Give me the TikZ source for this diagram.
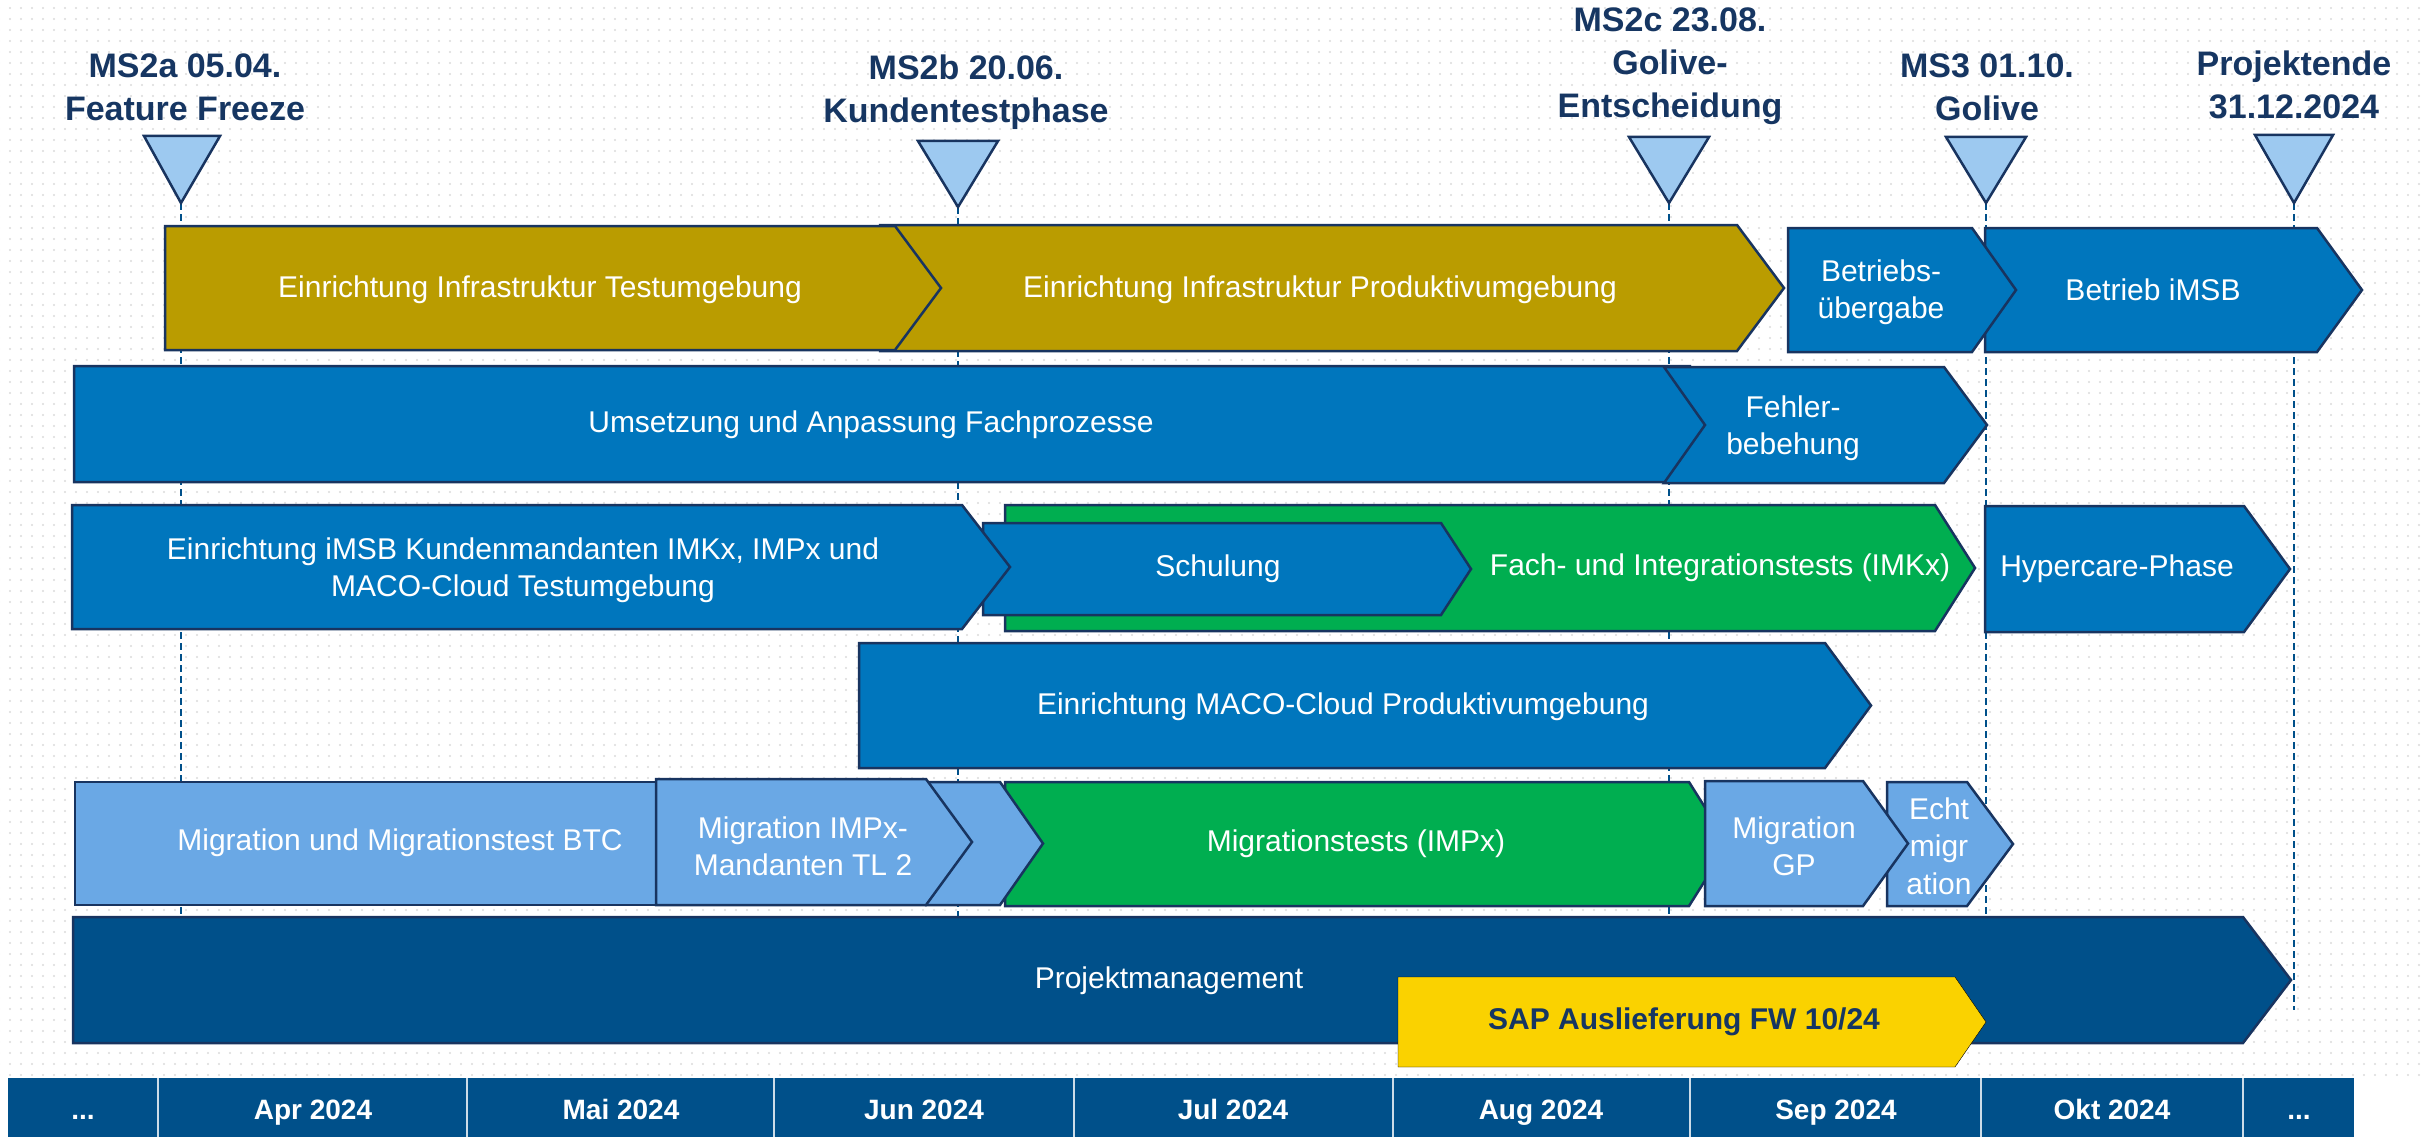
\documentclass[tikz,border=0pt]{standalone}
\usepackage{fontspec}
\setmainfont{Liberation Sans}
\usetikzlibrary{patterns.meta}
\definecolor{cnavy}{RGB}{22,54,98}
\definecolor{cline}{RGB}{24,52,96}
\definecolor{cgold}{RGB}{186,156,0}
\definecolor{cblue}{RGB}{0,118,189}
\definecolor{cdblue}{RGB}{0,80,138}
\definecolor{clblue}{RGB}{106,168,229}
\definecolor{cgreen}{RGB}{0,174,80}
\definecolor{cyellow}{RGB}{250,210,0}
\definecolor{ctri}{RGB}{157,201,240}
\newcommand{\mypent}[6]{\draw[#1] (#2,#5) -- (#3,#5) -- (#4,{(#5+#6)/2}) -- (#3,#6) -- (#2,#6) -- cycle;}
\newcommand{\mychev}[7]{\draw[#1] (#2,#6) -- (#4,#6) -- (#5,{(#6+#7)/2}) -- (#4,#7) -- (#2,#7) -- (#3,{(#6+#7)/2}) -- cycle;}
\begin{document}
\begin{tikzpicture}[x=1pt,y=-1pt,
  bar/.style={draw=cline,line width=2.5pt,line join=miter},
  gbar/.style={bar,fill=cgold},
  bbar/.style={bar,fill=cblue},
  lbar/.style={bar,fill=clblue},
  grbar/.style={bar,fill=cgreen},
  dbar/.style={bar,fill=cdblue},
  tri/.style={draw=cline,line width=2.5pt,fill=ctri,line join=miter},
  msline/.style={draw=cdblue,line width=1.3pt,dash pattern=on 7pt off 4pt},
  lbl/.style={text=white,font=\fontsize{30}{37}\selectfont,align=center,inner sep=0pt},
  ms/.style={text=cnavy,font=\bfseries\fontsize{34}{43}\selectfont,align=center,inner sep=0pt},
  mon/.style={text=white,font=\bfseries\fontsize{28}{34}\selectfont,inner sep=0pt,anchor=base}]
\useasboundingbox (0,0) rectangle (2427,1137);
\fill[white] (0,0) rectangle (2427,1137);
\fill[pattern={Dots[radius=1.2pt,distance=10.5pt]},pattern color=black!14] (0,0) rectangle (2427,1078);
% milestone tips and dashed lines
\coordinate (t1) at (181,203); \coordinate (e1) at (181,1010);
\coordinate (t2) at (958,207); \coordinate (e2) at (958,1010);
\coordinate (t3) at (1669,203); \coordinate (e3) at (1669,1010);
\coordinate (t4) at (1986,203); \coordinate (e4) at (1986,1010);
\coordinate (t5) at (2294,203); \coordinate (e5) at (2294,1010);
\foreach \i in {1,...,5} {\draw[msline] (t\i) -- (e\i);}
\draw[tri] (144,136) -- (220,136) -- (t1) -- cycle;
\draw[tri] (918,141) -- (998,141) -- (t2) -- cycle;
\draw[tri] (1629,137) -- (1709,137) -- (t3) -- cycle;
\draw[tri] (1946,137) -- (2026,137) -- (t4) -- cycle;
\draw[tri] (2255,135) -- (2333,135) -- (t5) -- cycle;
\node[ms] (m1) at (185,87) {MS2a 05.04.\\Feature Freeze};
\node[ms] (m2) at (966,92) {MS2b 20.06.\\Kundentestphase};
\node[ms] (m3) at (1670,66) {MS2c 23.08.\\Golive-\\Entscheidung};
\node[ms] (m4) at (1987,87) {MS3 01.10.\\Golive};
\node[ms] (m5) at (2294,85) {Projektende\\31.12.2024};
% row 1
\mypent{gbar}{880}{1737}{1784}{225}{351}
\mypent{gbar}{165}{895}{941}{226}{350}
\mypent{bbar}{1985}{2317}{2362}{228}{352}
\mypent{bbar}{1788}{1972}{2016}{228}{352}
\node[lbl] (a1) at (540,290) {Einrichtung Infrastruktur Testumgebung};
\node[lbl] (a2) at (1320,290) {Einrichtung Infrastruktur Produktivumgebung};
\node[lbl] (a3) at (1881,292) {Betriebs-\\übergabe};
\node[lbl] (a4) at (2153,290) {Betrieb iMSB};
% row 2
\mypent{bbar}{74}{1690}{1705}{366}{482}
\mychev{bbar}{1664}{1705}{1944}{1987}{367}{483}
\node[lbl] (b1) at (871,425) {Umsetzung und Anpassung Fachprozesse};
\node[lbl] (b2) at (1793,428) {Fehler-\\bebehung};
% row 3
\mypent{grbar}{1005}{1935}{1975}{505}{631}
\mypent{bbar}{983}{1441}{1471}{523}{615}
\mypent{bbar}{72}{962}{1010}{505}{629}
\mypent{bbar}{1985}{2244}{2290}{506}{632}
\node[lbl] (c1) at (523,570) {Einrichtung iMSB Kundenmandanten IMKx, IMPx und\\MACO-Cloud Testumgebung};
\node[lbl] (c2) at (1218,569) {Schulung};
\node[lbl] (c3) at (1720,568) {Fach- und Integrationstests (IMKx)};
\node[lbl] (c4) at (2117,569) {Hypercare-Phase};
% row 4
\mypent{bbar}{859}{1825}{1871}{643}{768}
\node[lbl] (d1) at (1343,707) {Einrichtung MACO-Cloud Produktivumgebung};
% row 5
\draw[lbar] (75,782) rectangle (660,905);
\mypent{grbar}{1005}{1689}{1728}{782}{906}
\mypent{lbar}{926}{1000}{1043}{782}{905}
\mypent{lbar}{656}{926}{972}{779}{905}
\mypent{lbar}{1887}{1967}{2013}{782}{906}
\mypent{lbar}{1705}{1863}{1908}{781}{906}
\node[lbl] (e1t) at (400,843) {Migration und Migrationstest BTC};
\node[lbl] (e2t) at (803,846) {Migration IMPx-\\Mandanten TL 2};
\node[lbl] (e3t) at (1356,844) {Migrationstests (IMPx)};
\node[lbl] (e4t) at (1794,846) {Migration\\GP};
\node[lbl,font=\fontsize{30}{37.5}\selectfont] (e5t) at (1939,846) {Echt\\migr\\ation};
% row 6
\mypent{dbar}{73}{2243}{2291}{917}{1043}
\mypent{fill=cyellow}{1398}{1955}{1986}{977}{1067}
\node[lbl] (f1) at (1169,981) {Projektmanagement};
\node[lbl,text=cnavy,font=\bfseries\fontsize{30}{36}\selectfont] (f2) at (1684,1022) {SAP Auslieferung FW 10/24};
% timeline
\fill[cdblue] (8,1078) rectangle (2354,1137);
\foreach \x in {158,467,774,1074,1393,1690,1981,2243} {\draw[white!80!cdblue,line width=1.5pt] (\x,1078) -- (\x,1137);}
\node[mon] (g0) at (83,1119) {...};
\node[mon] (g1) at (313,1119) {Apr 2024};
\node[mon] (g2) at (621,1119) {Mai 2024};
\node[mon] (g3) at (924,1119) {Jun 2024};
\node[mon] (g4) at (1233,1119) {Jul 2024};
\node[mon] (g5) at (1541,1119) {Aug 2024};
\node[mon] (g6) at (1836,1119) {Sep 2024};
\node[mon] (g7) at (2112,1119) {Okt 2024};
\node[mon] (g8) at (2299,1119) {...};
\end{tikzpicture}
\end{document}
